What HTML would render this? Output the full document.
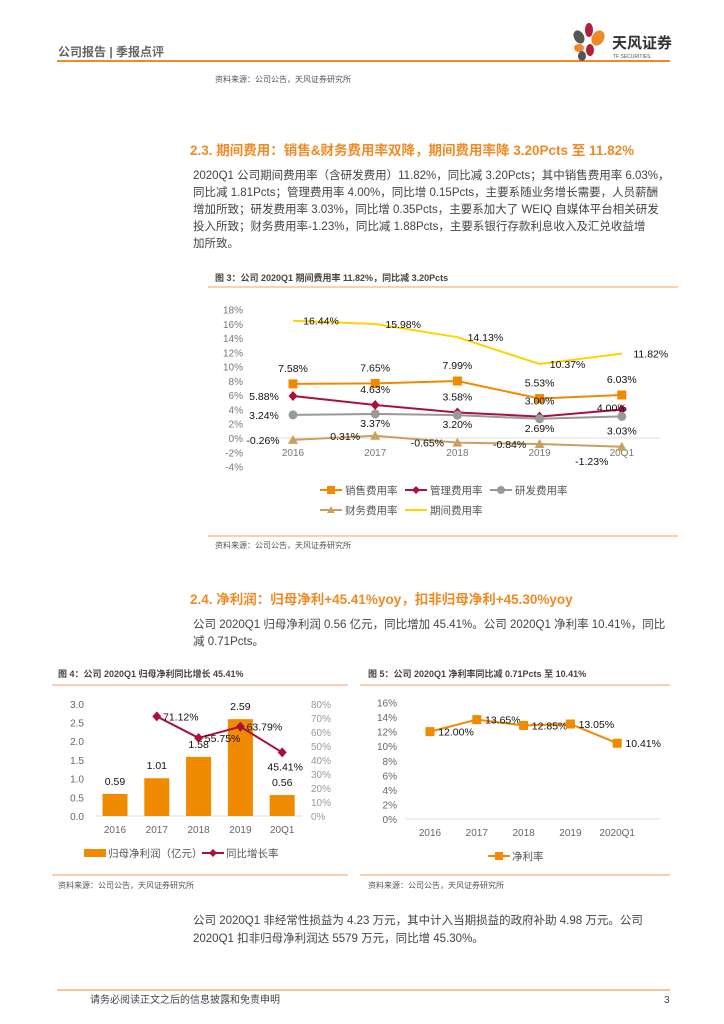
<!DOCTYPE html>
<html><head><meta charset="utf-8">
<style>
body{margin:0;background:#fff;}
svg{display:block;font-family:"Liberation Sans","Noto Sans CJK SC",sans-serif;}
</style></head>
<body>
<svg id="pg" width="724" height="1024" viewBox="0 0 724 1024">
<g>
<text x="58" y="56" font-size="12" fill="#666" font-weight="bold">公司报告 | 季报点评</text>
<line x1="57" y1="61" x2="670" y2="61" stroke="#f08a24" stroke-width="2"/>
<g>
<ellipse cx="579" cy="37" rx="5" ry="7" fill="#555" transform="rotate(-30 579 37)"/>
<ellipse cx="589" cy="30" rx="4" ry="7" fill="#b0203a"/>
<ellipse cx="598" cy="38" rx="6" ry="8" fill="#f08a24" transform="rotate(30 598 38)"/>
<ellipse cx="579" cy="48" rx="5" ry="4" fill="#f08a24"/>
<ellipse cx="590" cy="50" rx="4" ry="6" fill="#b0203a"/>
<ellipse cx="582" cy="56" rx="4" ry="5" fill="#555"/>
<text x="612" y="48" font-size="15" font-weight="bold" fill="#333">天风证券</text>
<text x="613" y="58" font-size="5" fill="#555">TF SECURITIES</text>
</g>
</g>
<text x="215" y="82" font-size="8" fill="#555">资料来源：公司公告，天风证券研究所</text>
<text x="190" y="155" font-size="13.5" font-weight="bold" fill="#f08a24">2.3. 期间费用：销售&amp;财务费用率双降，期间费用率降 3.20Pcts 至 11.82%</text>
<g font-size="11.5" fill="#444">
<text x="193" y="179">2020Q1 公司期间费用率（含研发费用）11.82%，同比减 3.20Pcts；其中销售费用率 6.03%，</text>
<text x="193" y="196">同比减 1.81Pcts；管理费用率 4.00%，同比增 0.15Pcts，主要系随业务增长需要，人员薪酬</text>
<text x="193" y="213">增加所致；研发费用率 3.03%，同比增 0.35Pcts，主要系加大了 WEIQ 自媒体平台相关研发</text>
<text x="193" y="230">投入所致；财务费用率-1.23%，同比减 1.88Pcts，主要系银行存款利息收入及汇兑收益增</text>
<text x="193" y="247">加所致。</text>
</g>
<text x="215" y="281" font-size="9" font-weight="bold" fill="#444">图 3：公司 2020Q1 期间费用率 11.82%，同比减 3.20Pcts</text>
<line x1="208" y1="287" x2="678" y2="287" stroke="#f4a060" stroke-width="1"/>
<g id="c1"></g>
<line x1="208" y1="536" x2="678" y2="536" stroke="#f4a060" stroke-width="1"/>
<text x="215" y="548" font-size="8" fill="#555">资料来源：公司公告，天风证券研究所</text>
<text x="190" y="604" font-size="13.5" font-weight="bold" fill="#f08a24">2.4. 净利润：归母净利+45.41%yoy，扣非归母净利+45.30%yoy</text>
<g font-size="11.5" fill="#444">
<text x="193" y="628">公司 2020Q1 归母净利润 0.56 亿元，同比增加 45.41%。公司 2020Q1 净利率 10.41%，同比</text>
<text x="193" y="645">减 0.71Pcts。</text>
</g>
<text x="58" y="677" font-size="9" font-weight="bold" fill="#444">图 4：公司 2020Q1 归母净利同比增长 45.41%</text>
<line x1="52" y1="685" x2="348" y2="685" stroke="#f4a060"/>
<text x="368" y="677" font-size="9" font-weight="bold" fill="#444">图 5：公司 2020Q1 净利率同比减 0.71Pcts 至 10.41%</text>
<line x1="360" y1="685" x2="670" y2="685" stroke="#f4a060"/>
<g id="c4"></g>
<g id="c5"></g>
<line x1="52" y1="875" x2="348" y2="875" stroke="#f4a060"/>
<line x1="360" y1="875" x2="670" y2="875" stroke="#f4a060"/>
<text x="58" y="888" font-size="8" fill="#555">资料来源：公司公告，天风证券研究所</text>
<text x="368" y="888" font-size="8" fill="#555">资料来源：公司公告，天风证券研究所</text>
<g font-size="11.5" fill="#444">
<text x="193" y="924">公司 2020Q1 非经常性损益为 4.23 万元，其中计入当期损益的政府补助 4.98 万元。公司</text>
<text x="193" y="942">2020Q1 扣非归母净利润达 5579 万元，同比增 45.30%。</text>
</g>
<line x1="57" y1="990" x2="670" y2="990" stroke="#f08a24" stroke-width="1"/>
<text x="90" y="1003" font-size="10" fill="#444">请务必阅读正文之后的信息披露和免责申明</text>
<text x="664" y="1003" font-size="10" fill="#444">3</text>
</svg>
<script>
const NS="http://www.w3.org/2000/svg";
function mk(p,t,a,txt){const e=document.createElementNS(NS,t);for(const k in a)e.setAttribute(k,a[k]);if(txt!==undefined)e.textContent=txt;p.appendChild(e);return e;}
// ---- chart 1 data
const c1Cats=["2016","2017","2018","2019","20Q1"];
const c1Sales=[7.58,7.65,7.99,5.53,6.03];
const c1Admin=[5.88,4.63,3.58,3.00,4.00];
const c1RD=[3.24,3.37,3.20,2.69,3.03];
const c1Fin=[-0.26,0.31,-0.65,-0.84,-1.23];
const c1Period=[16.44,15.98,14.13,10.37,11.82];
const c1Ticks=[18,16,14,12,10,8,6,4,2,0,-2,-4];
// ---- chart 4 data
const c4Cats=["2016","2017","2018","2019","20Q1"];
const c4Profit=[0.59,1.01,1.58,2.59,0.56];
const c4Growth=[null,71.12,55.75,63.79,45.41];
const c4LeftTicks=["0.0","0.5","1.0","1.5","2.0","2.5","3.0"];
const c4RightTicks=[0,10,20,30,40,50,60,70,80];
// ---- chart 5 data
const c5Cats=["2016","2017","2018","2019","2020Q1"];
const c5Margin=[12.00,13.65,12.85,13.05,10.41];
const c5Ticks=[0,2,4,6,8,10,12,14,16];

// chart 1
(function(){
const g=document.getElementById('c1');
const y=v=>438-(v/2)*14.27;
const x=i=>293+i*82.2;
c1Ticks.forEach(t=>{const e=mk(g,'text',{x:243,y:y(t)+4,'font-size':10,fill:'#777','text-anchor':'end'},t+'%');

});
mk(g,'line',{x1:265,y1:y(0),x2:660,y2:y(0),stroke:'#ddd'});
c1Cats.forEach((c,i)=>{const e=mk(g,'text',{x:x(i),y:456,'font-size':10,fill:'#777','text-anchor':'middle'},c);

});
function series(vals,col,name,marker,lab){
 const pts=vals.map((v,i)=>x(i)+','+y(v)).join(' ');
 const pl=mk(g,'polyline',{points:pts,fill:'none',stroke:col,'stroke-width':2});
 
 
 vals.forEach((v,i)=>{const cx=x(i),cy=y(v);let m;
  if(marker==='sq')m=mk(g,'rect',{x:cx-4.5,y:cy-4.5,width:9,height:9,fill:col});
  else if(marker==='di')m=mk(g,'polygon',{points:`${cx},${cy-5} ${cx+4.5},${cy} ${cx},${cy+5} ${cx-4.5},${cy}`,fill:col});
  else if(marker==='ci')m=mk(g,'circle',{cx:cx,cy:cy,r:4.5,fill:col});
  else if(marker==='tr')m=mk(g,'polygon',{points:`${cx},${cy-5} ${cx+5},${cy+4} ${cx-5},${cy+4}`,fill:col});
  if(m){
  }
  const o=lab[i];const t=mk(g,'text',{x:cx+o[0],y:cy+o[1],'font-size':10.5,fill:'#111','text-anchor':'middle'},v.toFixed(2)+'%');
  
  });
}
series(c1Period,'#ffd200','period-rate','none',[[28,4],[28,4],[28,4],[28,4],[29,4]]);
series(c1Sales,'#f08a00','sales-rate','sq',[[0,-12],[0,-12],[0,-12],[0,-12],[0,-12]]);
series(c1Admin,'#a8123a','admin-rate','di',[[-29,4],[0,-12],[0,-12],[0,-12],[-10,2]]);
series(c1RD,'#999999','rd-rate','ci',[[-29,4],[0,13],[0,13],[0,13],[0,18]]);
series(c1Fin,'#c9a060','fin-rate','tr',[[-30,4],[-30,4],[-30,4],[-30,4],[-30,18]]);
const L=[[320,490,'#f08a00','sq','销售费用率'],[405,490,'#a8123a','di','管理费用率'],[490,490,'#999','ci','研发费用率'],[320,510,'#c9a060','tr','财务费用率'],[405,510,'#ffd200','none','期间费用率']];
L.forEach(l=>{const lg=mk(g,'g',{});
 
 
 mk(lg,'line',{x1:l[0],y1:l[1],x2:l[0]+22,y2:l[1],stroke:l[2],'stroke-width':2});
 const cx=l[0]+11,cy=l[1];
 if(l[3]==='sq')mk(lg,'rect',{x:cx-4,y:cy-4,width:8,height:8,fill:l[2]});
 if(l[3]==='di')mk(lg,'polygon',{points:`${cx},${cy-4} ${cx+4},${cy} ${cx},${cy+4} ${cx-4},${cy}`,fill:l[2]});
 if(l[3]==='ci')mk(lg,'circle',{cx:cx,cy:cy,r:4,fill:l[2]});
 if(l[3]==='tr')mk(lg,'polygon',{points:`${cx},${cy-4} ${cx+4},${cy+3} ${cx-4},${cy+3}`,fill:l[2]});
 mk(lg,'text',{x:l[0]+25,y:l[1]+4,'font-size':10.5,fill:'#555'},l[4]);});
})();

// chart 4
(function(){
const g=document.getElementById('c4');
const yL=v=>816-v*37.4;
const yR=v=>816-v*1.4;
const x=i=>115+i*41.8;
c4LeftTicks.forEach(t=>{const e=mk(g,'text',{x:84,y:yL(+t)+4,'font-size':10,fill:'#666','text-anchor':'end'},t);

});
c4RightTicks.forEach(t=>{const e=mk(g,'text',{x:311,y:yR(t)+4,'font-size':10,fill:'#999'},t+'%');

});
mk(g,'line',{x1:95,y1:816,x2:302,y2:816,stroke:'#ddd'});
c4Cats.forEach((c,i)=>{const e=mk(g,'text',{x:x(i),y:833,'font-size':10,fill:'#666','text-anchor':'middle'},c);

});
c4Profit.forEach((v,i)=>{const r=mk(g,'rect',{x:x(i)-12.5,y:yL(v),width:25,height:816-yL(v),fill:'#f08a00'});


const t=mk(g,'text',{x:x(i),y:yL(v)-9,'font-size':10.5,fill:'#111','text-anchor':'middle'},v.toFixed(2));

});
const pts=[];c4Growth.forEach((v,i)=>{if(v!==null)pts.push(x(i)+','+yR(v));});
const pl=mk(g,'polyline',{points:pts.join(' '),fill:'none',stroke:'#a8123a','stroke-width':2});


const off=[null,[24,4],[24,4],[24,4],[3,18]];
c4Growth.forEach((v,i)=>{if(v===null)return;const cx=x(i),cy=yR(v);
const m=mk(g,'polygon',{points:`${cx},${cy-5} ${cx+4.5},${cy} ${cx},${cy+5} ${cx-4.5},${cy}`,fill:'#a8123a'});


const t=mk(g,'text',{x:cx+off[i][0],y:cy+off[i][1],'font-size':10.5,fill:'#111','text-anchor':'middle'},v.toFixed(2)+'%');

});
const l1=mk(g,'g',{});


mk(l1,'rect',{x:84,y:849,width:22,height:8,fill:'#f08a00'});
mk(l1,'text',{x:108,y:857,'font-size':10.5,fill:'#555'},'归母净利润（亿元）');
const l2=mk(g,'g',{});


mk(l2,'line',{x1:202,y1:853,x2:224,y2:853,stroke:'#a8123a','stroke-width':2});
mk(l2,'polygon',{points:'213,849 217,853 213,857 209,853',fill:'#a8123a'});
mk(l2,'text',{x:226,y:857,'font-size':10.5,fill:'#555'},'同比增长率');
})();

// chart 5
(function(){
const g=document.getElementById('c5');
const y=v=>819-v*7.28;
const x=i=>430+i*46.8;
c5Ticks.forEach(t=>{const e=mk(g,'text',{x:397,y:y(t)+4,'font-size':10,fill:'#666','text-anchor':'end'},t+'%');

});
mk(g,'line',{x1:405,y1:819,x2:660,y2:819,stroke:'#ddd'});
c5Cats.forEach((c,i)=>{const e=mk(g,'text',{x:x(i),y:836,'font-size':10,fill:'#666','text-anchor':'middle'},c);

});
const pl=mk(g,'polyline',{points:c5Margin.map((v,i)=>x(i)+','+y(v)).join(' '),fill:'none',stroke:'#f08a00','stroke-width':2});


c5Margin.forEach((v,i)=>{const cx=x(i),cy=y(v);
const m=mk(g,'rect',{x:cx-4.5,y:cy-4.5,width:9,height:9,fill:'#f08a00'});


const t=mk(g,'text',{x:cx+26,y:cy+4,'font-size':10.5,fill:'#111','text-anchor':'middle'},v.toFixed(2)+'%');

});
const lg=mk(g,'g',{});


mk(lg,'line',{x1:488,y1:856,x2:510,y2:856,stroke:'#f08a00','stroke-width':2});
mk(lg,'rect',{x:495,y:852,width:8,height:8,fill:'#f08a00'});
mk(lg,'text',{x:512,y:860,'font-size':10.5,fill:'#555'},'净利率');
})();
</script>
</body></html>
